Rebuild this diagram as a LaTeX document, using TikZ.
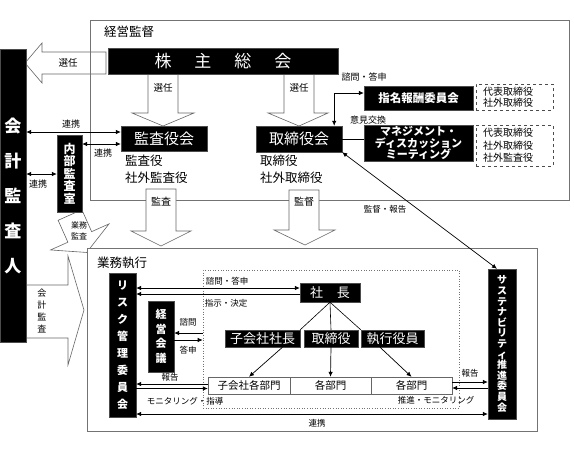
\documentclass[tikz,border=0pt]{standalone}
\usepackage{fontspec}
\setmainfont{Noto Sans CJK JP}
\usetikzlibrary{arrows.meta,calc}
\begin{document}
\begin{tikzpicture}[x=1pt,y=-1pt,
  blk/.style={fill=black,draw=black!70,line width=0.4pt,text=white,inner sep=0pt,align=center},
  frame/.style={draw=black!55,line width=0.7pt},
  barrow/.style={draw=black!60,fill=white,line width=0.6pt,line join=miter},
  lbl/.style={inner sep=0pt,font=\fontsize{9}{10.5}\selectfont},
  con/.style={line width=0.7pt,draw=black},
  tipr/.style={-{Latex[length=5pt,width=4.5pt]}},
  tipb/.style={{Latex[length=5pt,width=4.5pt]}-{Latex[length=5pt,width=4.5pt]}},
  dashbox/.style={draw=black!70,dashed,line width=0.6pt,inner ysep=0pt,inner xsep=7pt,align=left,text width=63pt}
]
\fill[white] (0,0) rectangle (574,475);
\useasboundingbox (0,0) rectangle (574,475);

% block arrows behind frames
\draw[barrow] (106,52) -- (42,52) -- (42,43) -- (25,63) -- (42,83) -- (42,74) -- (106,74) -- cycle;
\node[lbl,font=\fontsize{9.5}{11}\selectfont] (senninL) at (68,63) {選任};

\draw[barrow] (26,285) -- (68,285) -- (68,256) -- (84,310) -- (68,365) -- (68,338) -- (26,338) -- cycle;
\node[lbl,align=center,font=\fontsize{9}{12}\selectfont] (kaikeikansa) at (42,311) {会\\計\\監\\査};

\begin{scope}[shift={(70,215)},rotate=24]
\draw[barrow] (-13,0) -- (13,0) -- (13,24) -- (32,24) -- (0,41) -- (-32,24) -- (-13,24) -- cycle;
\end{scope}
\node[lbl,align=center,font=\fontsize{8}{11}\selectfont] (gyomukansa) at (79,231) {業務\\監査};

% frames
\draw[frame] (90,20) rectangle (569,200);
\node[inner sep=0pt,font=\fontsize{12.5}{14}\selectfont] (keieikantoku) at (129,32) {経営監督};
\draw[frame,fill=white] (87,248) rectangle (537,431);
\node[inner sep=0pt,font=\fontsize{12.5}{14}\selectfont] (gyomushikko) at (122,263) {業務執行};

% down block arrows
\draw[barrow] (148,74) -- (178,74) -- (178,113) -- (194,113) -- (163,126) -- (132,113) -- (148,113) -- cycle;
\node[lbl,font=\fontsize{9.5}{11}\selectfont] (sennin1) at (163,88) {選任};
\draw[barrow] (284,74) -- (314,74) -- (314,113) -- (328,113) -- (299,126) -- (268,113) -- (284,113) -- cycle;
\node[lbl,font=\fontsize{9.5}{11}\selectfont] (sennin2) at (299,88) {選任};
\draw[barrow] (146,189) -- (176,189) -- (176,231) -- (191,231) -- (161,246) -- (131,231) -- (146,231) -- cycle;
\node[lbl,font=\fontsize{10}{11}\selectfont] (kansaA) at (161,202) {監査};
\draw[barrow] (289,190) -- (319,190) -- (319,230) -- (335,230) -- (305,245) -- (274,230) -- (289,230) -- cycle;
\node[lbl,font=\fontsize{10}{11}\selectfont] (kantokuA) at (304,202) {監督};

% upper nodes
\node[blk,minimum width=230pt,minimum height=26pt,font=\fontsize{17}{20}\selectfont] (kabu) at (223,61) {株\hspace{23pt}主\hspace{23pt}総\hspace{23pt}会};
\node[blk,minimum width=26pt,minimum height=293pt,font=\fontsize{17}{35}\selectfont\bfseries] (kaikei) at (13,195.5) {会\\計\\監\\査\\人};
\node[blk,minimum width=86pt,minimum height=25pt,font=\fontsize{15}{18}\selectfont] (kansa) at (164,138.5) {監査役会};
\node[blk,minimum width=86pt,minimum height=26pt,font=\fontsize{15}{18}\selectfont] (tori) at (299,139) {取締役会};
\node[anchor=west,inner sep=0pt,font=\fontsize{12.5}{14}\selectfont] (kansa1) at (125,161) {監査役};
\node[anchor=west,inner sep=0pt,font=\fontsize{12.5}{14}\selectfont] (kansa2) at (125,178) {社外監査役};
\node[anchor=west,inner sep=0pt,font=\fontsize{12.5}{14}\selectfont] (tori1) at (260,161) {取締役};
\node[anchor=west,inner sep=0pt,font=\fontsize{12.5}{14}\selectfont] (tori2) at (260,178) {社外取締役};
\node[blk,minimum width=25pt,minimum height=77pt,font=\fontsize{12}{12.5}\selectfont\bfseries] (naibu) at (69.5,173.5) {内\\部\\監\\査\\室};

\node[blk,minimum width=109pt,minimum height=24pt,font=\fontsize{11.5}{13}\selectfont\bfseries] (shimei) at (418.5,98) {指名報酬委員会};
\node[dashbox,minimum height=26pt,font=\fontsize{10}{11.5}\selectfont] (dash1) at (514.5,97) {代表取締役\\社外取締役};
\node[blk,minimum width=109pt,minimum height=36pt,font=\fontsize{11}{11.5}\selectfont\bfseries] (mdm) at (418.5,143) {マネジメント・\\ディスカッション\\ミーティング};
\node[dashbox,minimum height=41pt,font=\fontsize{10}{12.5}\selectfont] (dash2) at (514.5,145.5) {代表取締役\\社外取締役\\社外監査役};

% upper connectors
\draw[con,tipb] (kaikei.east |- 0,132) -- (kansa.west |- 0,132);
\node[lbl] (renkei1) at (71,124) {連携};
\draw[con,tipb] (naibu.east |- 0,144) -- (kansa.west |- 0,144);
\node[lbl] (renkei2) at (103,153) {連携};
\draw[con,tipb] (kaikei.east |- 0,174) -- (naibu.west |- 0,174);
\node[lbl] (renkei3) at (38,184) {連携};
\draw[con,tipb] ([xshift=-8pt]tori.north east) |- ([yshift=5pt]shimei.west);
\node[lbl] (shimon1) at (364,77) {諮問・答申};
\draw[con] (tori.east) -- (tori.east -| mdm.west);
\node[lbl] (iken) at (368,120) {意見交換};

% lower nodes
\node[blk,minimum width=27pt,minimum height=144pt,font=\fontsize{11}{17}\selectfont\bfseries] (risk) at (122.5,345) {リ\\ス\\ク\\管\\理\\委\\員\\会};
\node[blk,minimum width=26pt,minimum height=71pt,font=\fontsize{11}{14.5}\selectfont\bfseries] (keiei) at (161,336.5) {経\\営\\会\\議};
\node[draw=black!55,dotted,line width=0.6pt,minimum width=256pt,minimum height=138pt,inner sep=0pt] (grp) at (331,339) {};
\node[blk,minimum width=60pt,minimum height=19pt,font=\fontsize{13}{15}\selectfont] (shacho) at (330,292.5) {社\hspace{14pt}長};
\node[blk,minimum width=75pt,minimum height=17pt,font=\fontsize{13}{15}\selectfont] (kss) at (262.5,338.5) {子会社社長};
\node[blk,minimum width=54pt,minimum height=17pt,font=\fontsize{13}{15}\selectfont] (trs) at (331,338.5) {取締役};
\node[blk,minimum width=63pt,minimum height=17pt,font=\fontsize{13}{15}\selectfont] (sky) at (392.5,338.5) {執行役員};
\node[draw=black!60,fill=white,minimum width=82pt,minimum height=17pt,inner sep=0pt,font=\fontsize{10.5}{12}\selectfont] (bu1) at (249,385.5) {子会社各部門};
\node[draw=black!60,fill=white,minimum width=81pt,minimum height=17pt,inner sep=0pt,font=\fontsize{10.5}{12}\selectfont] (bu2) at (330.5,385.5) {各部門};
\node[draw=black!60,fill=white,minimum width=81pt,minimum height=17pt,inner sep=0pt,font=\fontsize{10.5}{12}\selectfont] (bu3) at (411.5,385.5) {各部門};
\node[blk,minimum width=28pt,minimum height=150pt,font=\fontsize{10}{10.6}\selectfont\bfseries] (sus) at (502,344) {サ\\ス\\テ\\ナ\\ビ\\リ\\テ\\ィ\\推\\進\\委\\員\\会};

% lower connectors
\draw[line width=0.6pt] (shacho.south) -- (kss.north east);
\draw[line width=0.6pt] (shacho.south) -- (trs.north);
\draw[line width=0.6pt] (shacho.south) -- (sky.north west);
\draw[con,tipr] ([xshift=20pt]kss.south) -- (bu1.north);
\draw[con,tipr] (trs.south) -- (bu2.north);
\draw[con,tipr] ([xshift=-12.5pt]sky.south) -- (bu3.north);

\draw[con,tipb] (risk.east |- 0,288) -- (shacho.west |- 0,288);
\draw[con,tipr] (shacho.west |- 0,294) -- (risk.east |- 0,294);
\node[lbl,font=\fontsize{8.5}{10}\selectfont] (shimon2) at (227,281) {諮問・答申};
\node[lbl,font=\fontsize{8.5}{10}\selectfont] (shiji) at (226,303) {指示・決定};

\draw[con,tipr] (grp.west |- 0,333) -- (keiei.east |- 0,333);
\draw[con,tipr] (keiei.east |- 0,340) -- (grp.west |- 0,340);
\node[lbl,font=\fontsize{8.5}{10}\selectfont] (shimon3) at (188,322) {諮問};
\node[lbl,font=\fontsize{8.5}{10}\selectfont] (toshin3) at (188,350) {答申};

\draw[con,tipr] (bu1.west |- 0,384) -- (risk.east |- 0,384);
\draw[con,tipr] (risk.east |- 0,388.5) -- (bu1.west |- 0,388.5);
\node[lbl,font=\fontsize{8.5}{10}\selectfont] (hokoku1) at (170,377) {報告};
\node[lbl,font=\fontsize{8.5}{10}\selectfont] (monitor1) at (185,401) {モニタリング・指導};

\draw[con,tipr] (bu3.east |- 0,382) -- (sus.west |- 0,382);
\draw[con,tipr] (sus.west |- 0,388) -- (bu3.east |- 0,388);
\node[lbl,font=\fontsize{8.5}{10}\selectfont] (hokoku2) at (470,373) {報告};
\node[lbl,font=\fontsize{8.5}{10}\selectfont] (suishin) at (436,400) {推進・モニタリング};

\draw[con,tipb] (risk.east |- 0,414) -- (sus.west |- 0,414);
\node[lbl,font=\fontsize{8.5}{10}\selectfont] (renkei4) at (317,423) {連携};

\draw[con,tipb] (tori.south east) -- ([xshift=-5pt]sus.north);
\node[lbl,font=\fontsize{8.5}{10}\selectfont] (kantokuhokoku) at (385,209) {監督・報告};
\end{tikzpicture}
\end{document}
